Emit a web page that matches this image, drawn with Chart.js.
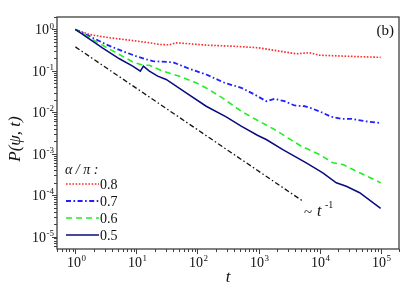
<!DOCTYPE html>
<html>
<head>
<meta charset="utf-8">
<script src="https://cdn.jsdelivr.net/npm/chart.js@4/dist/chart.umd.min.js"></script>
<style>
html,body{margin:0;padding:0;background:#fff;}
canvas{display:block;}
</style>
</head>
<body>
<canvas id="c" width="415" height="294"></canvas>
<script>
// ---- data ----
const seriesLabels = ['0.8', '0.7', '0.6', '0.5'];
const legendTitle = 'α / π :';

const t08 = [1, 1.7, 3.61, 7.68, 16.3, 23.8, 34.8, 44.8, 74, 139, 375, 1000, 2210, 4150, 6850, 10000, 27400, 100000];
const p08 = [1, 0.757, 0.63, 0.552, 0.477, 0.434, 0.427, 0.477, 0.452, 0.418, 0.395, 0.361, 0.299, 0.259, 0.274, 0.239, 0.226, 0.212];

const t07 = [1, 1.7, 3.19, 5.96, 9.89, 18.5, 39.4, 74, 139, 277, 520, 860, 1337, 1830, 2670, 3890, 5680, 7760, 10700, 15600, 22700, 33100, 54700, 100000];
const p07 = [1, 0.689, 0.434, 0.299, 0.226, 0.171, 0.162, 0.112, 0.0819, 0.0516, 0.0391, 0.0269, 0.0185, 0.0212, 0.0185, 0.0146, 0.014, 0.01215, 0.01005, 0.00778, 0.00697, 0.00697, 0.0061, 0.0055];

const t06 = [1, 2.64, 4.65, 8.6, 12.7, 16.3, 27, 50.7, 95.2, 147, 245, 520, 860, 1830, 3020, 5010, 10000, 16500, 24100, 35200, 100000];
const p06 = [1, 0.434, 0.274, 0.166, 0.137, 0.137, 0.0984, 0.0745, 0.0516, 0.037, 0.0232, 0.01063, 0.00697, 0.00384, 0.00242, 0.00152, 0.000957, 0.000603, 0.000549, 0.000415, 0.0002];

const t05 = [1, 2.77, 5.26, 8.69, 11.6, 13.0, 16.3, 22.3, 30.7, 65.3, 139, 295, 520, 975, 1337, 2500, 6050, 11300, 18800, 27400, 45300, 100000];
const p05 = [1, 0.361, 0.196, 0.130, 0.0984, 0.130, 0.0984, 0.0745, 0.062, 0.0296, 0.014, 0.00778, 0.00461, 0.00275, 0.0022, 0.00126, 0.000602, 0.000346, 0.000198, 0.000164, 0.000114, 0.000048];

const tRef = [1, 5300];
const pRef = [0.38, 0.0000717];

const xMajorTicks = [1, 10, 100, 1000, 10000, 100000];
const xMajorExp = ['0', '1', '2', '3', '4', '5'];
const yMajorTicks = [1, 0.1, 0.01, 0.001, 0.0001, 0.00001];
const yMajorExp = ['0', '-1', '-2', '-3', '-4', '-5'];
const minorMult = [2, 3, 4, 5, 6, 7, 8, 9];

const xTitle = 't';
const yTitle = 'P(ψ, t)';
const panelLabel = '(b)';

function pts(ts, ps) { return ts.map((t, i) => ({x: t, y: ps[i]})); }

const SERIF = '"Liberation Serif", "Times New Roman", "DejaVu Serif", serif';

const styles = [
  {color: '#ff2a2a', dash: [1.6, 1.6], width: 1.6},
  {color: '#1f1fff', dash: [5, 2.5, 1.6, 2.5], width: 1.8},
  {color: '#22ee22', dash: [6, 4], width: 1.6},
  {color: '#0a0a80', dash: [], width: 1.5}
];

function drawPow(ctx, exp, x, y, align, size) {
  ctx.font = size + 'px ' + SERIF;
  const wb = ctx.measureText('10').width;
  const ss = Math.round(size * 0.62);
  ctx.font = ss + 'px ' + SERIF;
  const we = ctx.measureText(exp).width;
  const total = wb + we + 0.5;
  let x0 = align === 'right' ? x - total : (align === 'center' ? x - total / 2 : x);
  ctx.textAlign = 'left';
  ctx.textBaseline = 'alphabetic';
  ctx.font = size + 'px ' + SERIF;
  ctx.fillText('10', x0, y);
  ctx.font = ss + 'px ' + SERIF;
  ctx.fillText(exp, x0 + wb + 0.5, y - size * 0.42);
}

const decor = {
  id: 'decor',
  afterDraw(chart) {
    const ctx = chart.ctx;
    const {left, right, top, bottom} = chart.chartArea;
    const xs = chart.scales.x, ys = chart.scales.y;
    ctx.save();
    ctx.fillStyle = '#111';
    ctx.strokeStyle = '#404040';
    ctx.lineWidth = 1.3;
    ctx.setLineDash([]);
    ctx.strokeRect(left, top, right - left, bottom - top);

    // x ticks
    ctx.lineWidth = 1;
    const xDecades = [0.1].concat(xMajorTicks);
    xDecades.forEach(d => {
      [1].concat(minorMult).forEach(m => {
        const v = d * m;
        if (v < xs.min || v > xs.max) return;
        const px = Math.round(xs.getPixelForValue(v)) + 0.5;
        const len = m === 1 ? 5 : 3;
        ctx.beginPath(); ctx.moveTo(px, bottom); ctx.lineTo(px, bottom + len); ctx.stroke();
      });
    });
    // y ticks
    const yDecades = [0.000001].concat(yMajorTicks.slice().reverse());
    yDecades.forEach(d => {
      [1].concat(minorMult).forEach(m => {
        const v = d * m;
        if (v < ys.min || v > ys.max) return;
        const py = Math.round(ys.getPixelForValue(v)) + 0.5;
        const len = m === 1 ? 5 : 3;
        ctx.beginPath(); ctx.moveTo(left, py); ctx.lineTo(left - len, py); ctx.stroke();
      });
    });

    // tick labels
    xMajorTicks.forEach((v, i) => {
      const px = xs.getPixelForValue(v);
      drawPow(ctx, xMajorExp[i], px + 1, bottom + 18, 'center', 14);
    });
    yMajorTicks.forEach((v, i) => {
      const py = ys.getPixelForValue(v);
      drawPow(ctx, yMajorExp[i], left - 3, py + 5, 'right', 14);
    });

    // titles
    ctx.font = 'italic 17px ' + SERIF;
    ctx.textAlign = 'center';
    ctx.textBaseline = 'middle';
    ctx.fillText(xTitle, 228, 278);
    ctx.save();
    ctx.translate(16, 139);
    ctx.rotate(-Math.PI / 2);
    ctx.fillText(yTitle, 0, 0);
    ctx.restore();

    // panel label
    ctx.font = '15px ' + SERIF;
    ctx.textAlign = 'right';
    ctx.fillText(panelLabel, 394, 31);

    // ~ t^-1 annotation
    ctx.textAlign = 'left';
    ctx.font = '15px ' + SERIF;
    ctx.fillText('~', 304, 213);
    ctx.font = 'italic 16px ' + SERIF;
    ctx.fillText('t', 317, 212);
    ctx.font = '10px ' + SERIF;
    ctx.fillText('-1', 325, 205);

    // legend
    ctx.font = 'italic 14px ' + SERIF;
    ctx.fillText(legendTitle, 65, 170);
    const ly = [184, 201, 218, 235];
    ctx.font = '14px ' + SERIF;
    seriesLabels.forEach((lab, i) => {
      const s = styles[i];
      ctx.save();
      ctx.strokeStyle = s.color;
      ctx.lineWidth = s.width;
      ctx.setLineDash(s.dash);
      ctx.beginPath(); ctx.moveTo(66, ly[i]); ctx.lineTo(99, ly[i]); ctx.stroke();
      ctx.restore();
      ctx.fillStyle = '#111';
      ctx.fillText(lab, 100, ly[i] + 1);
    });
    ctx.restore();
  }
};

const allT = [t08, t07, t06, t05];
const allP = [p08, p07, p06, p05];
const datasets = seriesLabels.map((lab, i) => ({
  label: lab,
  data: pts(allT[i], allP[i]),
  borderColor: styles[i].color,
  borderWidth: styles[i].width,
  borderDash: styles[i].dash,
  showLine: true,
  pointRadius: 0,
  tension: 0,
  fill: false
}));
datasets.push({
  label: 'ref',
  data: pts(tRef, pRef),
  borderColor: '#111',
  borderWidth: 1.3,
  borderDash: [5, 2.5, 1.5, 2.5],
  showLine: true,
  pointRadius: 0,
  fill: false
});

new Chart(document.getElementById('c'), {
  type: 'scatter',
  data: {datasets: datasets.reverse()},
  options: {
    responsive: false,
    animation: false,
    devicePixelRatio: 1,
    layout: {padding: {left: 57, top: 17, right: 16, bottom: 45}},
    plugins: {legend: {display: false}, tooltip: {enabled: false}},
    scales: {
      x: {type: 'logarithmic', min: 0.5, max: 200000, display: false},
      y: {type: 'logarithmic', min: 0.000005, max: 2, display: false}
    }
  },
  plugins: [decor]
});
</script>
</body>
</html>
